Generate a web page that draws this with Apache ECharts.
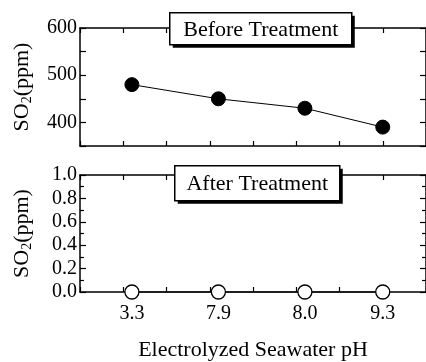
<!DOCTYPE html>
<html>
<head>
<meta charset="utf-8">
<script src="https://cdn.jsdelivr.net/npm/echarts@6/dist/echarts.min.js"></script>
<style>
  html, body { margin: 0; padding: 0; background: #fff; }
  #chart { width: 426px; height: 362px; }
</style>
</head>
<body>
<div id="chart"></div>
<script>
// electrolyzed seawater pH, shown as labels under the points
const phLabels = ['3.3', '7.9', '8.0', '9.3']
// where each point sits along the 0..8 x scale
const xPos = [1.2, 3.2, 5.2, 7.0]
const before = [480, 450, 430, 390]
const after = [0, 0, 0, 0]

const font = "'Liberation Serif', 'Times New Roman', serif"

const chart = echarts.init(document.getElementById('chart'))

function xAxis(gridIndex, position, labels) {
  return {
    type: 'value',
    gridIndex: gridIndex,
    position: position,
    min: 0,
    max: 8,
    interval: 1,
    axisLine: { onZero: false, lineStyle: { color: '#000', width: 1.5 } },
    axisTick: { inside: true, length: 5, lineStyle: { color: '#000', width: 1.2 } },
    axisLabel: labels ? {
      show: true,
      customValues: xPos,
      formatter: v => phLabels[xPos.indexOf(v)],
      color: '#000',
      fontFamily: font,
      fontSize: 20,
      margin: 12
    } : { show: false },
    splitLine: { show: false },
    name: labels ? 'Electrolyzed Seawater pH' : '',
    nameLocation: 'middle',
    nameGap: 47,
    nameTextStyle: { color: '#000', fontFamily: font, fontSize: 22 }
  }
}

function yAxis(gridIndex, position, min, max, interval, fmt, minor) {
  const left = position === 'left'
  return {
    type: 'value',
    gridIndex: gridIndex,
    position: position,
    min: min,
    max: max,
    interval: interval,
    axisLine: { show: true, onZero: false, lineStyle: { color: '#000', width: 1.5 } },
    axisTick: { show: true, inside: true, length: 6, lineStyle: { color: '#000', width: 1.2 } },
    minorTick: { show: minor, splitNumber: 2, length: 4, lineStyle: { color: '#000', width: 1.2 } },
    axisLabel: left ? {
      show: true,
      formatter: fmt,
      color: '#000',
      fontFamily: font,
      fontSize: 20,
      margin: 3
    } : { show: false },
    splitLine: { show: false },
    name: left ? '{a|SO}{s|2}{a|(ppm)}' : '',
    nameLocation: 'middle',
    nameGap: 46,
    nameTextStyle: {
      color: '#000',
      rich: {
        a: { fontFamily: font, fontSize: 22, color: '#000' },
        s: { fontFamily: font, fontSize: 14, color: '#000', padding: [9, 0, 0, 0] }
      }
    }
  }
}

// boxed panel label with a hard drop shadow
function panelLabel(text, x, y, w, h) {
  return {
    type: 'group',
    left: x,
    top: y,
    children: [
      { type: 'rect', z: 100, shape: { x: 3, y: 3, width: w, height: h }, style: { fill: '#000' } },
      { type: 'rect', z: 101, shape: { x: 0, y: 0, width: w, height: h }, style: { fill: '#fff', stroke: '#000', lineWidth: 1.5 } },
      {
        type: 'text',
        z: 102,
        x: w / 2,
        y: h / 2 + 1,
        style: { text: text, fill: '#000', font: '22px ' + font, align: 'center', verticalAlign: 'middle' }
      }
    ]
  }
}

chart.setOption({
  animation: false,
  backgroundColor: '#fff',
  graphic: [
    panelLabel('Before Treatment', 169, 12, 182, 32),
    panelLabel('After Treatment', 174, 165, 165, 35)
  ],
  grid: [
    { left: 80, top: 28, width: 348, height: 118 },
    { left: 80, top: 175, width: 348, height: 118 }
  ],
  xAxis: [
    xAxis(0, 'bottom', false),
    xAxis(0, 'top', false),
    xAxis(1, 'bottom', true),
    xAxis(1, 'top', false)
  ],
  yAxis: [
    yAxis(0, 'left', 350, 600, 50, v => (v % 100 === 0 ? String(v) : ''), false),
    yAxis(0, 'right', 350, 600, 50, null, false),
    yAxis(1, 'left', 0, 1, 0.2, v => v.toFixed(1), true),
    yAxis(1, 'right', 0, 1, 0.2, null, true)
  ],
  series: [
    {
      type: 'line',
      xAxisIndex: 0,
      yAxisIndex: 0,
      data: xPos.map((x, i) => [x, before[i]]),
      symbol: 'circle',
      symbolSize: 14,
      lineStyle: { color: '#000', width: 1 },
      itemStyle: { color: '#000', borderColor: '#000' },
      z: 1
    },
    {
      type: 'line',
      xAxisIndex: 2,
      yAxisIndex: 2,
      data: xPos.map((x, i) => [x, after[i]]),
      symbol: 'circle',
      symbolSize: 14,
      showAllSymbol: true,
      clip: false,
      lineStyle: { color: '#000', width: 1 },
      itemStyle: { color: '#fff', borderColor: '#000', borderWidth: 1.3 },
      z: 10
    }
  ]
})
</script>
</body>
</html>
